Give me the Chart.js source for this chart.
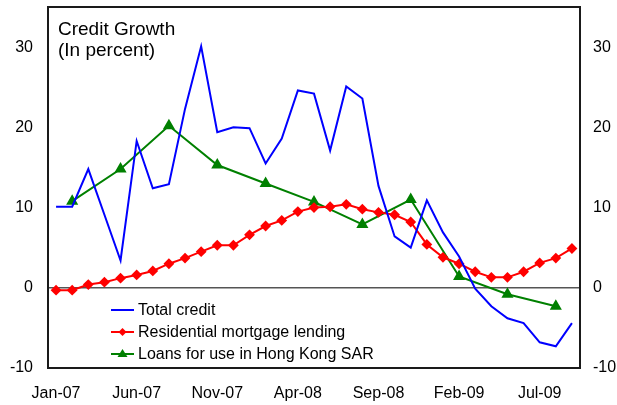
<!DOCTYPE html>
<html>
<head>
<meta charset="utf-8">
<script src="https://cdn.jsdelivr.net/npm/chart.js@4.4.1/dist/chart.umd.min.js"></script>
<style>
  html, body { margin: 0; padding: 0; background: #fff; }
  #wrap { width: 617px; height: 405px; }
</style>
</head>
<body>
<div id="wrap"><canvas id="credit-chart" width="617" height="405"></canvas></div>
<script>
// months Jan-07 .. Sep-09
const months = ['Jan-07','Feb-07','Mar-07','Apr-07','May-07','Jun-07','Jul-07','Aug-07','Sep-07','Oct-07','Nov-07','Dec-07',
  'Jan-08','Feb-08','Mar-08','Apr-08','May-08','Jun-08','Jul-08','Aug-08','Sep-08','Oct-08','Nov-08','Dec-08',
  'Jan-09','Feb-09','Mar-09','Apr-09','May-09','Jun-09','Jul-09','Aug-09','Sep-09'];

const totalCredit = [10.1, 10.1, 14.8, 9.1, 3.4, 18.3, 12.4, 12.9, 22.3, 30.1, 19.4, 20.0,
  19.9, 15.5, 18.6, 24.6, 24.2, 17.1, 25.1, 23.6, 12.7, 6.4, 5.0, 10.9,
  6.9, 3.9, -0.1, -2.3, -3.8, -4.4, -6.8, -7.3, -4.4];

const mortgage = [-0.3, -0.3, 0.4, 0.7, 1.2, 1.6, 2.1, 3.0, 3.7, 4.5, 5.3, 5.3,
  6.6, 7.7, 8.4, 9.5, 10.0, 10.1, 10.4, 9.8, 9.4, 9.1, 8.2, 5.4,
  3.8, 3.0, 2.0, 1.3, 1.3, 2.0, 3.1, 3.7, 4.9];

// quarterly figures (Feb, May, Aug, Nov)
const loansHK = [null, 10.8, null, null, 14.8, null, null, 20.2, null, null, 15.3, null,
  null, 13.0, null, null, 10.7, null, null, 7.9, null, null, 11.0, null,
  null, 1.4, null, null, -0.8, null, null, -2.3, null];

const yTicks = [-10, 0, 10, 20, 30];

const FONT = '"Liberation Sans", Arial, sans-serif';

// box around plot, title and legend inside the plot area
const decorPlugin = {
  id: 'decor',
  afterDraw(chart) {
    const ctx = chart.ctx;
    const a = chart.chartArea;
    ctx.save();
    ctx.strokeStyle = '#1a1a1a';
    ctx.lineWidth = 2;
    ctx.strokeRect(a.left, a.top, a.right - a.left, a.bottom - a.top);

    ctx.fillStyle = '#000';
    ctx.textBaseline = 'alphabetic';
    ctx.textAlign = 'left';
    ctx.font = '19px ' + FONT;
    ctx.fillText('Credit Growth', 58, 35);
    ctx.fillText('(In percent)', 58, 56);

    // legend
    const items = chart.data.datasets;
    ctx.font = '16px ' + FONT;
    ctx.textBaseline = 'middle';
    items.forEach((ds, i) => {
      const y = 310 + i * 22;
      ctx.strokeStyle = ds.borderColor;
      ctx.lineWidth = 2;
      ctx.beginPath();
      ctx.moveTo(111, y);
      ctx.lineTo(134, y);
      ctx.stroke();
      if (ds.pointStyle === 'rectRot') {
        ctx.fillStyle = ds.borderColor;
        ctx.beginPath();
        ctx.moveTo(122.5, y - 4);
        ctx.lineTo(126.5, y);
        ctx.lineTo(122.5, y + 4);
        ctx.lineTo(118.5, y);
        ctx.closePath();
        ctx.fill();
      } else if (ds.pointStyle === 'triangle') {
        ctx.fillStyle = ds.borderColor;
        ctx.beginPath();
        ctx.moveTo(122.5, y - 5);
        ctx.lineTo(127.5, y + 3);
        ctx.lineTo(117.5, y + 3);
        ctx.closePath();
        ctx.fill();
      }
      ctx.fillStyle = '#000';
      ctx.fillText(ds.label, 138, y + 1);
    });
    ctx.restore();
  }
};

const yScale = (side, width, pad) => ({
  type: 'linear',
  position: side,
  min: -10,
  max: 35,
  afterBuildTicks: (scale) => { scale.ticks = yTicks.map(v => ({ value: v })); },
  afterFit: (scale) => {
    scale.width = width;
    scale.paddingTop = 0;
    scale.paddingBottom = 0;
  },
  ticks: { color: '#000', font: { family: FONT, size: 16 }, padding: pad },
  border: { display: false },
  grid: {
    display: side === 'left',
    drawTicks: false,
    color: (c) => (c.tick && c.tick.value === 0 ? '#555' : 'rgba(0,0,0,0)'),
    lineWidth: 1.5
  }
});

new Chart(document.getElementById('credit-chart').getContext('2d'), {
  type: 'line',
  data: {
    labels: months,
    datasets: [{
      label: 'Total credit',
      data: totalCredit,
      borderColor: '#0000ff',
      backgroundColor: '#0000ff',
      borderWidth: 2,
      pointRadius: 0,
      pointStyle: false,
      tension: 0,
      yAxisID: 'y'
    }, {
      label: 'Residential mortgage lending',
      data: mortgage,
      borderColor: '#ff0000',
      backgroundColor: '#ff0000',
      borderWidth: 2,
      pointStyle: 'rectRot',
      pointRadius: 4,
      tension: 0,
      yAxisID: 'y'
    }, {
      label: 'Loans for use in Hong Kong SAR',
      data: loansHK,
      borderColor: '#008000',
      backgroundColor: '#008000',
      borderWidth: 2,
      pointStyle: 'triangle',
      pointRadius: 5,
      spanGaps: true,
      tension: 0,
      yAxisID: 'y'
    }]
  },
  options: {
    responsive: false,
    animation: false,
    layout: { padding: { top: 7, left: 0, right: 0, bottom: 0 } },
    plugins: {
      legend: { display: false },
      tooltip: { enabled: false }
    },
    scales: {
      x: {
        type: 'category',
        offset: true,
        afterFit: (scale) => {
          scale.height = 37;
          scale.paddingLeft = 0;
          scale.paddingRight = 0;
        },
        ticks: {
          autoSkip: false,
          maxRotation: 0,
          color: '#000',
          font: { family: FONT, size: 16 },
          padding: 16,
          callback: (v, i) => (i % 5 === 0 ? months[i] : '')
        },
        grid: { display: false, drawTicks: false },
        border: { display: false }
      },
      y: yScale('left', 48, 15),
      y2: yScale('right', 37, 13)
    }
  },
  plugins: [decorPlugin]
});
</script>
</body>
</html>
